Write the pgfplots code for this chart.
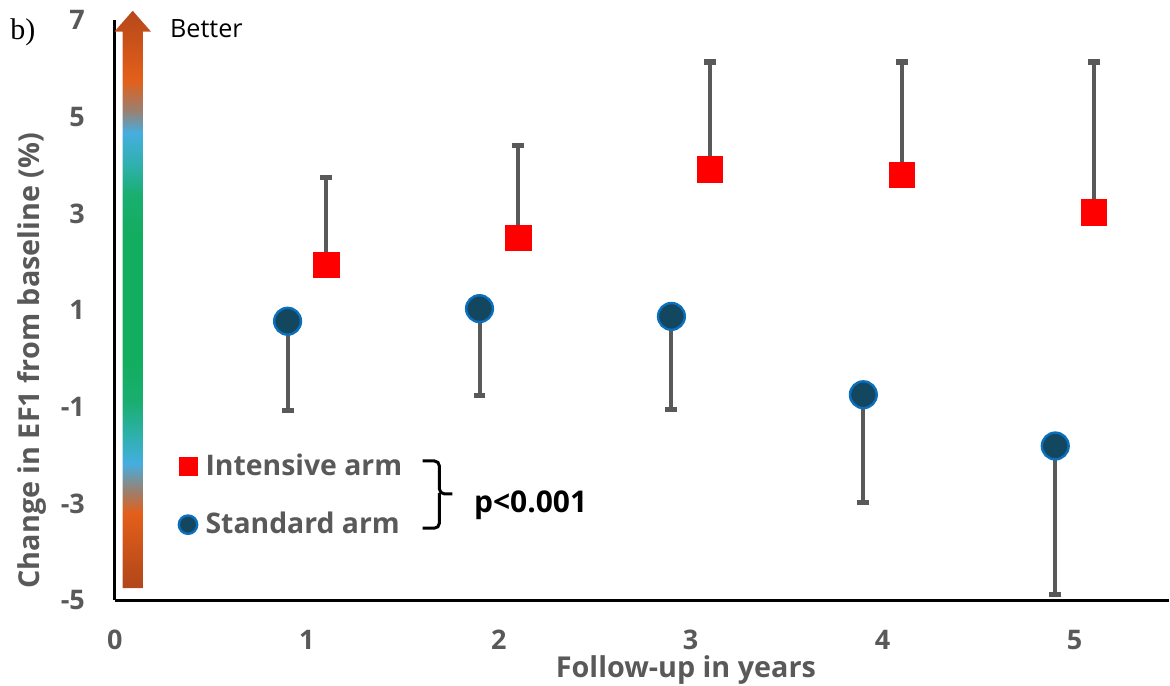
\documentclass[border=0pt]{standalone}
\usepackage{fontspec}
\setmainfont{Open Sans}
\newfontfamily\seriffont{Liberation Serif}
\usepackage{pgfplots}
\pgfplotsset{compat=1.18}

\definecolor{txt}{HTML}{595959}
\definecolor{errc}{HTML}{595959}
\definecolor{intred}{HTML}{FF0000}
\definecolor{stdfill}{HTML}{12475F}
\definecolor{stdedge}{HTML}{0A70BE}
\definecolor{gbrown}{HTML}{B5481A}
\definecolor{gorange}{HTML}{E35F1A}
\definecolor{ggrey}{HTML}{9C7F6E}
\definecolor{gblue}{HTML}{45AEE0}
\definecolor{gteal}{HTML}{2DB0A8}
\definecolor{ggreen1}{HTML}{1AAE70}
\definecolor{ggreen}{HTML}{12AD5E}

% arrow shading, path height mapped onto 25bp..75bp
\pgfdeclareverticalshading{better}{100bp}{
  color(0bp)=(gbrown); color(25bp)=(gbrown); color(25.6bp)=(gbrown);
  color(31.5bp)=(gorange); color(33.4bp)=(ggrey); color(35.8bp)=(gblue);
  color(38.4bp)=(gteal); color(41.2bp)=(ggreen1); color(44.9bp)=(ggreen);
  color(55.3bp)=(ggreen); color(59.1bp)=(ggreen1); color(61.4bp)=(gteal);
  color(64.4bp)=(gblue); color(66.4bp)=(ggrey); color(69bp)=(gorange);
  color(75bp)=(gbrown); color(100bp)=(gbrown)}

\newcommand{\lblfont}{\fontsize{13.5}{16}\selectfont\bfseries}
\newcommand{\legfont}{\fontsize{14.2}{17}\selectfont\bfseries}

\begin{document}
\begin{tikzpicture}
\begin{axis}[
  scale only axis, width=527.5pt, height=290.5pt,
  xmin=0, xmax=5.49, ymin=-5, ymax=7,
  axis x line*=bottom, axis y line*=left,
  axis line style={black, line width=1.5pt},
  xtick={0,1,2,3,4,5}, ytick={-5,-3,-1,1,3,5,7},
  tick style={draw=none},
  /pgf/number format/assume math mode=true,
  tick label style={font=\lblfont, text=txt},
  yticklabel style={anchor=east, xshift=-11.5pt},
  xticklabel style={anchor=center, yshift=-20pt, inner sep=0pt},
  xlabel={Follow-up in years},
  ylabel={Change in EF1 from baseline (\%)},
  label style={font=\fontsize{14.4}{17}\selectfont\bfseries, text=txt, inner sep=0pt},
  xlabel style={at={(axis description cs:0.542,-0.134)}, anchor=base},
  ylabel style={at={(axis description cs:-0.0787,0.413)}, anchor=center},
  clip=false,
  error bars/y dir=both, error bars/y explicit,
  error bars/error mark=|,
  error bars/error bar style={line width=2pt, color=errc},
  error bars/error mark options={color=errc, line width=2.7pt, mark size=3pt},
  legend image code/.code={\draw[#1, mark size=4.6pt] plot coordinates {(0pt,0pt)};},
  legend style={at={(axis cs:0.30,-1.80)}, anchor=north west, draw=none, fill=none,
    font=\legfont, text=txt, row sep=13pt,
    /tikz/every odd column/.append style={column sep=2.2pt}},
  legend cell align=left,
]
% gradient arrow
\shade[shading=better] (axis cs:0.040,-4.75) -- (axis cs:0.146,-4.75) -- (axis cs:0.146,6.76)
  -- (axis cs:0.188,6.76) -- (axis cs:0.093,7.19) -- (axis cs:-0.002,6.76)
  -- (axis cs:0.040,6.76) -- cycle;

\addplot[only marks, mark=square*, mark size=6.4pt, mark options={fill=intred, draw=intred, line width=0.1pt}]
  coordinates {
  (1.1,1.94) += (0,1.80)
  (2.1,2.50) += (0,1.90)
  (3.1,3.92) += (0,2.21)
  (4.1,3.80) += (0,2.33)
  (5.1,3.03) += (0,3.10)
  };
\addlegendentry{Intensive arm}

\addplot[only marks, mark=*, mark size=6.7pt, mark options={fill=stdfill, draw=stdedge, line width=1.2pt}]
  coordinates {
  (0.9,0.77) -= (0,1.84)
  (1.9,1.03) -= (0,1.79)
  (2.9,0.87) -= (0,1.93)
  (3.9,-0.75) -= (0,2.23)
  (4.9,-1.81) -= (0,3.07)
  };
\addlegendentry{Standard arm}

% bracket and p value
\draw[line width=1.5pt, rounded corners=2.5pt] (axis cs:1.603,-2.12) -- (axis cs:1.691,-2.12) -- (axis cs:1.691,-2.80) -- (axis cs:1.759,-2.80);
\draw[line width=1.5pt, rounded corners=2.5pt] (axis cs:1.691,-2.78) -- (axis cs:1.691,-3.51) -- (axis cs:1.603,-3.51);
\node[anchor=base west, inner sep=0pt, font=\fontsize{15}{18}\selectfont\bfseries] at (axis cs:1.870,-3.18) {p<0.001};

\node[anchor=base west, inner sep=0pt, font=\fontsize{12.6}{15}\selectfont] at (axis cs:0.286,6.634) {Better};
\node[anchor=base west, inner sep=0pt, font=\seriffont\fontsize{15}{18}\selectfont] at (axis cs:-0.546,6.587) {b)};
\end{axis}
\path (current axis.south west) ++(-57.5pt,-42.5pt) rectangle ++(585pt,343pt);
\end{tikzpicture}
\end{document}
